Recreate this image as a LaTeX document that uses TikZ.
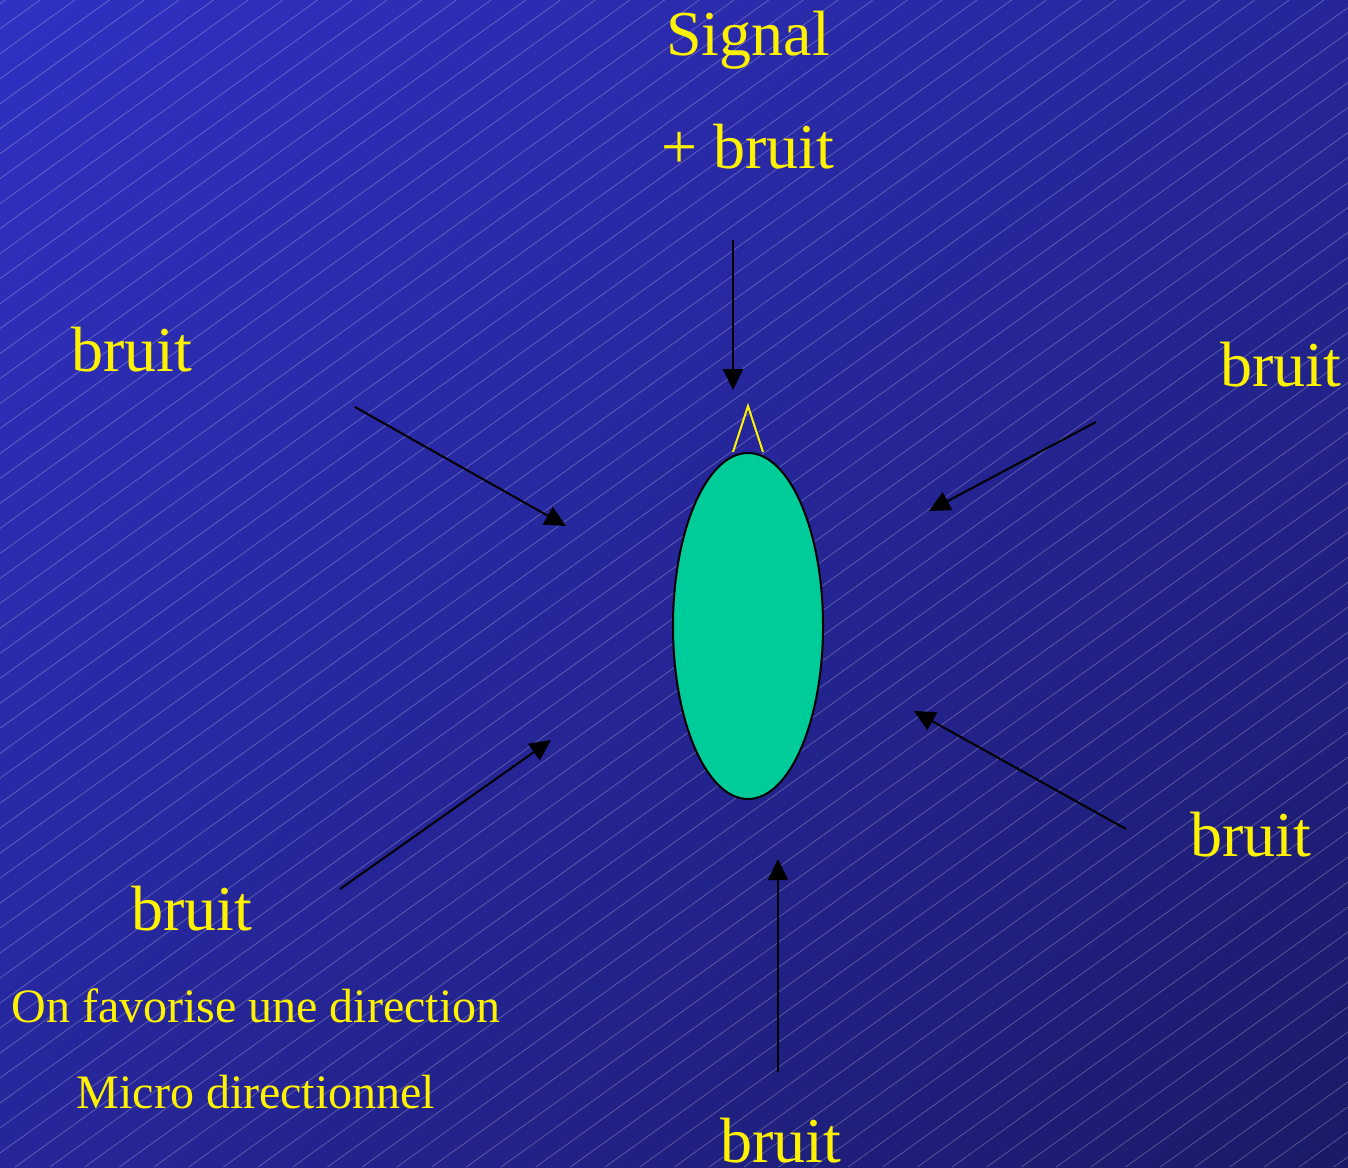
\documentclass[tikz,border=0pt]{standalone}
\usepackage{fontspec}
\setmainfont{Liberation Serif}
\usetikzlibrary{arrows.meta, shapes.geometric, shadings}

\definecolor{bgtl}{RGB}{48,48,194}
\definecolor{bgmid}{RGB}{38,38,154}
\definecolor{bgbr}{RGB}{26,26,104}
\definecolor{micgreen}{RGB}{0,204,153}

\begin{document}
\begin{tikzpicture}[x=1pt, y=-1pt,
    big/.style={text=yellow, anchor=base, inner sep=0pt, font=\fontsize{64}{64}\selectfont},
    small/.style={text=yellow, anchor=base, inner sep=0pt, font=\fontsize{48}{48}\selectfont},
    arr/.style={-{Triangle[length=21pt, width=20pt]}, line width=2pt, black}]
  \useasboundingbox (0,0) rectangle (1348,1167);

  % Background (blue shading + thin stripes)
  \shade[upper left=bgtl, upper right=bgmid, lower left=bgmid, lower right=bgbr]
    (0,0) rectangle (1348,1167);
  \begin{scope}
    \clip (0,0) rectangle (1348,1167);
    \foreach \k in {0,...,86}
      \draw[white, opacity=0.28, line width=0.7pt]
        ({5.3+34.7*\k},0) -- ({5.3+34.7*\k-1621},1167);
  \end{scope}

  % Microphone (green)
  \node[ellipse, draw=black, line width=2pt, fill=micgreen,
        minimum width=150pt, minimum height=346pt, inner sep=0pt] (mic) at (748,626) {};

  % Coordinates
  \coordinate (W1) at (733,452);
  \coordinate (WT) at (748,406);
  \coordinate (W2) at (763,452);
  \coordinate (N0) at (733,240);
  \coordinate (N1) at (733,390);
  \coordinate (NW0) at (355,407);
  \coordinate (NW1) at (566,526);
  \coordinate (NE0) at (1096,422);
  \coordinate (NE1) at (929,511);
  \coordinate (SE0) at (1126,829);
  \coordinate (SE1) at (914,711);
  \coordinate (SW0) at (340,889);
  \coordinate (SW1) at (551,740);
  \coordinate (S0) at (778,1072);
  \coordinate (S1) at (778,859);

  % Directivity cone (yellow)
  \draw[yellow, line width=2pt] (W1) -- (WT) -- (W2);

  % Arrows
  \draw[arr] (N0) -- (N1);
  \draw[arr] (NW0) -- (NW1);
  \draw[arr] (NE0) -- (NE1);
  \draw[arr] (SE0) -- (SE1);
  \draw[arr] (SW0) -- (SW1);
  \draw[arr] (S0) -- (S1);

  % Labels
  \node[big] (sig) at (748,55) {Signal};
  \node[big] (sigb) at (748,168) {+ bruit};
  \node[big] (bNW) at (132,371) {bruit};
  \node[big] (bNE) at (1281,386) {bruit};
  \node[big] (bSE) at (1251,856) {bruit};
  \node[big] (bSW) at (192,930) {bruit};
  \node[big] (bS) at (781,1162) {bruit};
  \node[small] (fav) at (256,1022) {On favorise une direction};
  \node[small] (micro) at (256,1108) {Micro directionnel};
\end{tikzpicture}
\end{document}
